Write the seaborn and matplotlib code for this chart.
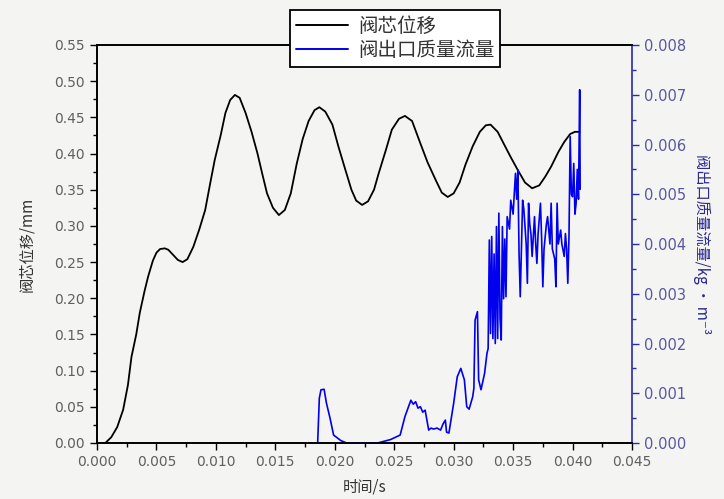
import numpy as np
import pandas as pd
import matplotlib
matplotlib.use("Agg")
import matplotlib.pyplot as plt
import seaborn as sns
from matplotlib.ticker import MultipleLocator, FormatStrFormatter
from matplotlib.lines import Line2D

# ---------------- data ----------------
disp_t = [0.0000, 0.0007, 0.0012, 0.0017, 0.0022, 0.0026, 0.0029, 0.0033, 0.0036, 0.0040,
          0.0043, 0.0047, 0.0050, 0.0053, 0.0057, 0.0060, 0.0064, 0.0068, 0.0072, 0.0076,
          0.0081, 0.0086, 0.0091, 0.0095, 0.0099, 0.0104, 0.0108, 0.0112, 0.0116, 0.0120,
          0.0125, 0.0130, 0.0135, 0.0139, 0.0143, 0.0148, 0.0153, 0.0158, 0.0163, 0.0168,
          0.0173, 0.0178, 0.0183, 0.0187, 0.0192, 0.0198, 0.0203, 0.0209, 0.0214, 0.0218,
          0.0223, 0.0228, 0.0233, 0.0237, 0.0243, 0.0248, 0.0254, 0.0259, 0.0265, 0.0272,
          0.0278, 0.0285, 0.0290, 0.0295, 0.0300, 0.0305, 0.0310, 0.0316, 0.0322, 0.0327,
          0.0331, 0.0337, 0.0342, 0.0348, 0.0354, 0.0360, 0.0366, 0.0372, 0.0377, 0.0382,
          0.0388, 0.0393, 0.0398, 0.0402, 0.0406]
disp_v = [0.000, 0.000, 0.008, 0.022, 0.046, 0.080, 0.119, 0.150, 0.180, 0.210,
          0.230, 0.252, 0.263, 0.268, 0.269, 0.267, 0.260, 0.253, 0.250, 0.254,
          0.271, 0.295, 0.322, 0.357, 0.391, 0.425, 0.456, 0.474, 0.481, 0.477,
          0.456, 0.430, 0.400, 0.372, 0.345, 0.325, 0.315, 0.322, 0.345, 0.386,
          0.420, 0.445, 0.460, 0.464, 0.458, 0.440, 0.410, 0.377, 0.350, 0.335,
          0.329, 0.334, 0.350, 0.373, 0.405, 0.433, 0.448, 0.452, 0.445, 0.414,
          0.388, 0.363, 0.346, 0.340, 0.345, 0.360, 0.385, 0.410, 0.430, 0.439,
          0.440, 0.430, 0.414, 0.395, 0.377, 0.360, 0.352, 0.356, 0.368, 0.382,
          0.402, 0.416, 0.427, 0.430, 0.430]

flow_t = [0.01850, 0.01856, 0.01870, 0.01884, 0.01910, 0.01930, 0.01960, 0.01990, 0.02050, 0.02100,
          0.02360, 0.02470, 0.02550, 0.02590, 0.02640, 0.02660, 0.02680, 0.02700, 0.02720, 0.02740,
          0.02760, 0.02790, 0.02810, 0.02830, 0.02860, 0.02890, 0.02910, 0.02930, 0.02940, 0.02960,
          0.03000, 0.03030, 0.03060, 0.03090, 0.03110, 0.03130, 0.03160, 0.03170, 0.03180, 0.03200,
          0.03210, 0.03230, 0.03260, 0.03280, 0.03290, 0.03300, 0.03310, 0.03320, 0.03330, 0.03340,
          0.03350, 0.03360, 0.03370, 0.03380, 0.03390, 0.03400, 0.03410, 0.03420, 0.03430, 0.03440,
          0.03450, 0.03470, 0.03480, 0.03500, 0.03510, 0.03520, 0.03530, 0.03540, 0.03550, 0.03560,
          0.03580, 0.03590, 0.03610, 0.03620, 0.03630, 0.03640, 0.03650, 0.03660, 0.03680, 0.03690,
          0.03700, 0.03710, 0.03730, 0.03740, 0.03750, 0.03760, 0.03780, 0.03790, 0.03810, 0.03820,
          0.03830, 0.03850, 0.03860, 0.03870, 0.03880, 0.03900, 0.03910, 0.03930, 0.03940, 0.03950,
          0.03960, 0.03970, 0.03980, 0.03990, 0.04000, 0.04010, 0.04020, 0.04030, 0.04040, 0.04050,
          0.04060, 0.04062, 0.04064]
flow_v = [0.00000, 0.00000, 0.00090, 0.00107, 0.00108, 0.00080, 0.00050, 0.00016, 0.00005, 0.00000,
          0.00000, 0.00007, 0.00016, 0.00053, 0.00086, 0.00078, 0.00083, 0.00070, 0.00073, 0.00062,
          0.00066, 0.00026, 0.00030, 0.00028, 0.00030, 0.00026, 0.00038, 0.00046, 0.00022, 0.00020,
          0.00080, 0.00133, 0.00150, 0.00127, 0.00073, 0.00068, 0.00093, 0.00110, 0.00247, 0.00264,
          0.00127, 0.00107, 0.00140, 0.00180, 0.00190, 0.00408, 0.00220, 0.00415, 0.00210, 0.00380,
          0.00200, 0.00435, 0.00210, 0.00462, 0.00250, 0.00207, 0.00435, 0.00290, 0.00410, 0.00294,
          0.00455, 0.00430, 0.00488, 0.00460, 0.00502, 0.00542, 0.00490, 0.00549, 0.00381, 0.00294,
          0.00488, 0.00470, 0.00400, 0.00321, 0.00482, 0.00440, 0.00420, 0.00375, 0.00455, 0.00400,
          0.00361, 0.00420, 0.00482, 0.00410, 0.00314, 0.00390, 0.00440, 0.00455, 0.00400, 0.00482,
          0.00390, 0.00370, 0.00314, 0.00482, 0.00400, 0.00428, 0.00400, 0.00375, 0.00421, 0.00390,
          0.00321, 0.00415, 0.00616, 0.00500, 0.00495, 0.00562, 0.00460, 0.00482, 0.00550, 0.00490,
          0.00710, 0.00610, 0.00510]

label_disp = "阀芯位移"
label_flow = "阀出口质量流量"
xlabel = "时间/s"
ylabel_left = "阀芯位移/mm"
ylabel_right = "阀出口质量流量/kg • m⁻³"

# ---------------- style ----------------
sns.set_theme(style="white")
plt.rcParams['font.family'] = ['Noto Sans CJK SC', 'DejaVu Sans']
plt.rcParams['axes.unicode_minus'] = False

bg = '#f4f4f3'
fig = plt.figure(figsize=(7.24, 4.99), dpi=100, facecolor=bg)
W, H = 724, 499
ax = fig.add_axes([97 / W, 1 - 443 / H, (632 - 97) / W, (443 - 45) / H])
ax.set_facecolor(bg)
ax2 = ax.twinx()

df1 = pd.DataFrame({"t": disp_t, "v": disp_v})
df2 = pd.DataFrame({"t": flow_t, "v": flow_v})
sns.lineplot(data=df1, x="t", y="v", ax=ax, color='black', lw=1.3, sort=False, estimator=None)
sns.lineplot(data=df2, x="t", y="v", ax=ax2, color='#0000ee', lw=1.2, sort=False, estimator=None)

ax.set_xlim(0, 0.045)
ax.set_ylim(0, 0.55)
ax2.set_ylim(0, 0.008)

tick_col = '#606060'
blue_axis = '#2a2aa8'
blue_lab = '#5858a0'

ax.xaxis.set_major_locator(MultipleLocator(0.005))
ax.xaxis.set_minor_locator(MultipleLocator(0.0025))
ax.xaxis.set_major_formatter(FormatStrFormatter('%.3f'))
ax.yaxis.set_major_locator(MultipleLocator(0.05))
ax.yaxis.set_minor_locator(MultipleLocator(0.025))
ax.yaxis.set_major_formatter(FormatStrFormatter('%.2f'))
ax2.yaxis.set_major_locator(MultipleLocator(0.001))
ax2.yaxis.set_minor_locator(MultipleLocator(0.0005))
ax2.yaxis.set_major_formatter(FormatStrFormatter('%.3f'))

ax.tick_params(axis='both', which='major', direction='out', length=5, width=1, colors='black',
               labelcolor=tick_col, labelsize=10, left=True, bottom=True, top=False, right=False)
ax.tick_params(axis='both', which='minor', direction='out', length=3, width=1, colors='black',
               left=True, bottom=True, top=False, right=False)
ax2.tick_params(axis='y', which='major', direction='out', length=5, width=1, colors=blue_axis,
                labelcolor=blue_lab, labelsize=10.5, right=True)
ax2.tick_params(axis='y', which='minor', direction='out', length=3, width=1, colors=blue_axis, right=True)

for lab in ax.get_xticklabels() + ax.get_yticklabels() + ax2.get_yticklabels():
    lab.set_fontfamily('DejaVu Sans')

for a in (ax, ax2):
    for s in a.spines.values():
        s.set_linewidth(1.2)
        s.set_color('black')
ax2.spines['right'].set_color(blue_axis)
ax.spines['right'].set_visible(False)

ax.set_xlabel(xlabel, fontsize=11, color='#333333', labelpad=7)
ax.set_ylabel(ylabel_left, fontsize=11, color='#333333', labelpad=14)
ax2.set_ylabel(ylabel_right, fontsize=11, color='#2a2a90', rotation=270, labelpad=18)

handles = [Line2D([0], [0], color='black', lw=1.4), Line2D([0], [0], color='#0000ee', lw=1.4)]
leg = fig.legend(handles, [label_disp, label_flow], loc='upper left',
                 bbox_to_anchor=(290 / W, 1 - 10 / H), frameon=True, fancybox=False,
                 fontsize=14, handlelength=2.7, borderpad=0.3, labelspacing=0.15,
                 handletextpad=0.5, borderaxespad=0)
leg.get_frame().set_edgecolor('black')
leg.get_frame().set_linewidth(1.3)
leg.get_frame().set_facecolor('white')
leg.get_frame().set_alpha(1)
for t in leg.get_texts():
    t.set_color('#333333')

fig.savefig('out.png', dpi=100, facecolor=bg)
